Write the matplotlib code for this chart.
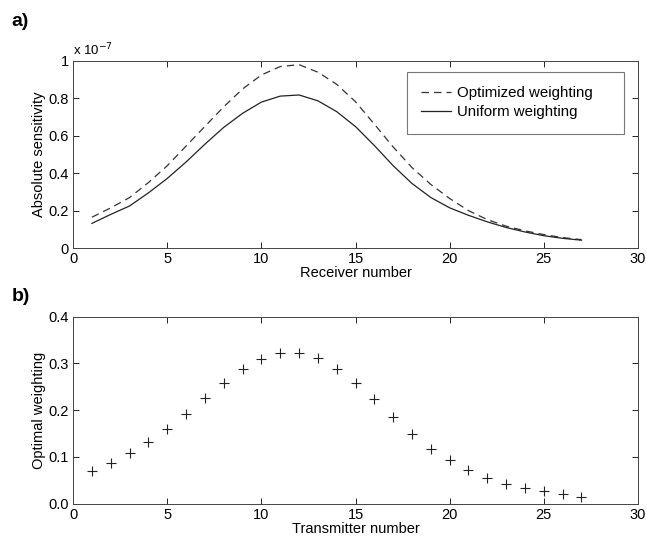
import matplotlib
matplotlib.use("Agg")
import matplotlib.pyplot as plt
from matplotlib.ticker import FuncFormatter

plt.rcParams['font.family'] = ['Liberation Sans', 'DejaVu Sans']
plt.rcParams['font.size'] = 10.5

# panel a) absolute sensitivity (units of 1e-7) vs receiver number
receivers = list(range(1, 28))
optimized = [0.165, 0.215, 0.27, 0.35, 0.44, 0.545, 0.65, 0.755, 0.85, 0.925,
             0.97, 0.98, 0.94, 0.875, 0.782, 0.662, 0.54, 0.43, 0.34, 0.265,
             0.2, 0.152, 0.117, 0.092, 0.072, 0.056, 0.045]
uniform = [0.132, 0.18, 0.225, 0.295, 0.372, 0.46, 0.555, 0.645, 0.72, 0.78,
           0.812, 0.818, 0.787, 0.729, 0.649, 0.548, 0.44, 0.345, 0.27, 0.215,
           0.175, 0.14, 0.11, 0.086, 0.066, 0.052, 0.042]

# panel b) optimal weighting vs transmitter number
transmitters = list(range(1, 28))
weights = [0.071, 0.088, 0.109, 0.133, 0.160, 0.192, 0.226, 0.258, 0.287, 0.309,
           0.322, 0.323, 0.312, 0.289, 0.259, 0.223, 0.185, 0.150, 0.118, 0.093,
           0.072, 0.055, 0.043, 0.034, 0.027, 0.021, 0.015]

scale = 1e-7

fig = plt.figure(figsize=(6.47, 5.44), dpi=100)
ax1 = fig.add_axes([0.113, 0.544, 0.873, 0.344])
ax2 = fig.add_axes([0.113, 0.074, 0.873, 0.344])

ax1.plot(receivers, [v * scale for v in optimized], '--', color='#333333', lw=0.9,
         dashes=(6, 4), label='Optimized weighting    ')
ax1.plot(receivers, [v * scale for v in uniform], '-', color='#222222', lw=0.9,
         label='Uniform weighting')
ax1.set_xlim(0, 30)
ax1.set_ylim(0, 1 * scale)
ax1.set_yticks([v * scale for v in [0, 0.2, 0.4, 0.6, 0.8, 1.0]])
ax1.yaxis.set_major_formatter(FuncFormatter(lambda v, p: f"{v / scale:g}"))
ax1.set_xlabel('Receiver number', labelpad=0)
ax1.set_ylabel('Absolute sensitivity', labelpad=2)
ax1.text(0.0, 1.015, r'x 10$^{-7}$', transform=ax1.transAxes, fontsize=9.5,
         ha='left', va='bottom')
leg = ax1.legend(loc='upper right', fancybox=False, edgecolor='#555555',
                 fontsize=10.8, handlelength=2.0, handletextpad=0.4,
                 borderpad=0.95, labelspacing=0.35, borderaxespad=0,
                 bbox_to_anchor=(0.975, 0.941))
leg.get_frame().set_linewidth(0.8)

ax2.plot(transmitters, weights, '+', color='#222222', markersize=7, mew=0.8)
ax2.set_xlim(0, 30)
ax2.set_ylim(0, 0.4)
ax2.set_yticks([0, 0.1, 0.2, 0.3, 0.4])
ax2.set_xlabel('Transmitter number', labelpad=0)
ax2.set_ylabel('Optimal weighting', labelpad=2)

for ax in (ax1, ax2):
    ax.set_xticks([0, 5, 10, 15, 20, 25, 30])
    ax.tick_params(direction='in', top=True, right=True, length=4, width=0.6, pad=3)
    for s in ax.spines.values():
        s.set_linewidth(0.7)
        s.set_color('#444444')

fig.text(0.018, 0.952, 'a)', fontsize=14, fontweight='bold')
fig.text(0.018, 0.447, 'b)', fontsize=14, fontweight='bold')

fig.savefig('out.png', dpi=100)
